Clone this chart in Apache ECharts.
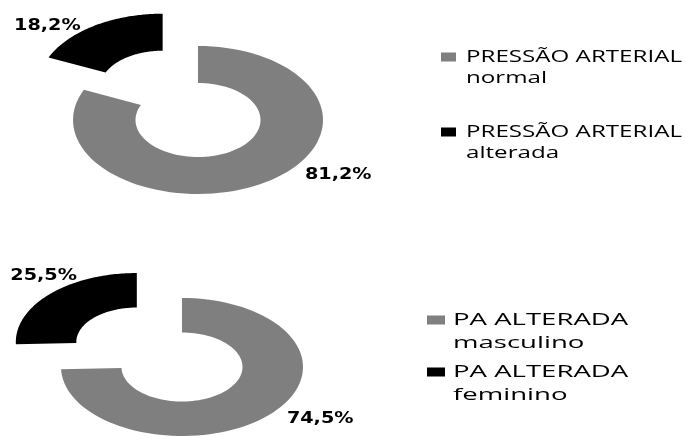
<!DOCTYPE html>
<html>
<head>
<meta charset="utf-8">
<script src="https://cdn.jsdelivr.net/npm/echarts@6/dist/echarts.min.js"></script>
<style>
  html, body { margin: 0; padding: 0; background: #fff; }
  #chart { width: 686px; height: 436px; }
</style>
</head>
<body>
<div id="chart"></div>
<script>
// Blood pressure survey: overall status and sex split of altered readings
const topCategories = ['PRESSÃO ARTERIAL\nnormal', 'PRESSÃO ARTERIAL\nalterada'];
const topValues = [81.2, 18.2];
const bottomCategories = ['PA ALTERADA\nmasculino', 'PA ALTERADA\nfeminino'];
const bottomValues = [74.5, 25.5];
const sliceColors = ['#7f7f7f', '#000000'];

// Layout of the two elliptical donuts (one grid each, unit circle mapped to the grid box)
const donuts = [
  {
    categories: topCategories, values: topValues,
    grid: { left: 73, top: 46, width: 250, height: 148 },
    explode: [0, 0.52],
    labelNudge: [[39, -7], [-14, 0]],
    legend: { iconX: 441, iconW: 15, iconH: 9, textX: 466, firstLines: [57, 132], lineHeight: 21, scaleX: 1.42 }
  },
  {
    categories: bottomCategories, values: bottomValues,
    grid: { left: 61, top: 298, width: 242, height: 144 },
    explode: [0, 0.52],
    labelNudge: [[18, 4], [27, -18]],
    legend: { iconX: 427, iconW: 18, iconH: 9, textX: 453, firstLines: [320, 372], lineHeight: 23, scaleX: 1.62 }
  }
];

const INNER = 0.5;
const fmt = v => v.toFixed(1).replace('.', ',') + '%';

function sliceRenderer(values, k, explode, nudge, color) {
  return function (params, api) {
    const total = values.reduce((a, b) => a + b, 0);
    const before = values.slice(0, k).reduce((a, b) => a + b, 0);
    const v = api.value(2);
    const a0 = before / total * Math.PI * 2;
    const a1 = (before + v) / total * Math.PI * 2;
    const mid = (a0 + a1) / 2;
    const ox = Math.sin(mid) * explode;
    const oy = Math.cos(mid) * explode;
    const n = 90;
    const pts = [];
    for (let i = 0; i <= n; i++) {
      const a = a0 + (a1 - a0) * i / n;
      pts.push(api.coord([ox + Math.sin(a), oy + Math.cos(a)]));
    }
    for (let i = n; i >= 0; i--) {
      const a = a0 + (a1 - a0) * i / n;
      pts.push(api.coord([ox + INNER * Math.sin(a), oy + INNER * Math.cos(a)]));
    }
    const anchor = api.coord([ox + Math.sin(mid), oy + Math.cos(mid)]);
    const right = Math.sin(mid) >= 0;
    return {
      type: 'group',
      children: [
        { type: 'polygon', shape: { points: pts }, style: { fill: color } },
        {
          type: 'text',
          x: anchor[0] + nudge[0],
          y: anchor[1] + nudge[1],
          scaleX: 1.2,
          style: {
            text: fmt(v),
            font: 'bold 16px "DejaVu Sans"',
            fill: '#000',
            align: right ? 'left' : 'right',
            verticalAlign: 'middle'
          }
        }
      ]
    };
  };
}

const grids = [], xAxes = [], yAxes = [], series = [], graphics = [];
donuts.forEach((d, c) => {
  grids.push(Object.assign({ containLabel: false }, d.grid));
  xAxes.push({ type: 'value', gridIndex: c, min: -1, max: 1, show: false });
  yAxes.push({ type: 'value', gridIndex: c, min: -1, max: 1, show: false });
  d.values.forEach((v, k) => {
    series.push({
      type: 'custom',
      name: d.categories[k],
      xAxisIndex: c,
      yAxisIndex: c,
      clip: false,
      silent: true,
      itemStyle: { color: sliceColors[k] },
      encode: { x: 0, y: 1 },
      data: [[0, 0, v]],
      renderItem: sliceRenderer(d.values, k, d.explode[k], d.labelNudge[k], sliceColors[k])
    });
    const L = d.legend;
    const cy = L.firstLines[k];
    graphics.push({
      type: 'rect',
      shape: { x: L.iconX, y: cy - L.iconH / 2, width: L.iconW, height: L.iconH },
      style: { fill: sliceColors[k] }
    });
    graphics.push({
      type: 'text',
      x: L.textX,
      y: cy - L.lineHeight / 2,
      scaleX: L.scaleX,
      style: {
        text: d.categories[k],
        font: '17px "Open Sans"',
        lineHeight: L.lineHeight,
        fill: '#000',
        verticalAlign: 'top'
      }
    });
  });
});

const chart = echarts.init(document.getElementById('chart'), null, { renderer: 'canvas' });
chart.setOption({
  animation: false,
  backgroundColor: '#ffffff',
  grid: grids,
  xAxis: xAxes,
  yAxis: yAxes,
  series: series,
  graphic: graphics
});
</script>
</body>
</html>
